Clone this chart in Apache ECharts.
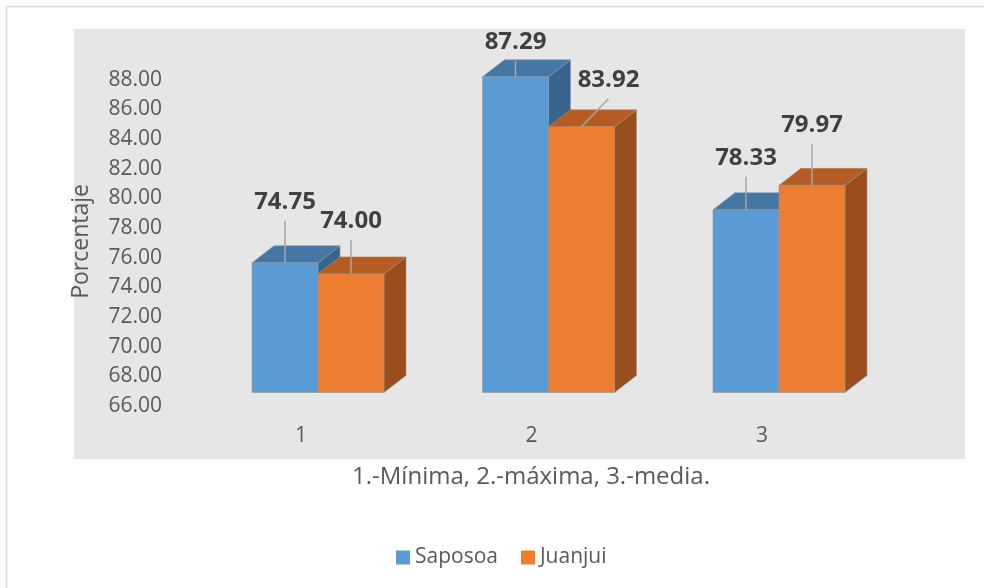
<!DOCTYPE html>
<html>
<head>
<meta charset="utf-8">
<title>Porcentaje</title>
<script src="https://cdn.jsdelivr.net/npm/echarts@6/dist/echarts.min.js"></script>
<style>
  html, body { margin: 0; padding: 0; background: #fff; }
  #main { width: 984px; height: 588px; }
</style>
</head>
<body>
<div id="main"></div>
<script>
var categories = ['1', '2', '3'];
var saposoa = [74.75, 87.29, 78.33];
var juanjui = [74.00, 83.92, 79.97];
var yMin = 66, yMax = 88, yStep = 2;

// where each data label sits, relative to the top of its bar front
var saposoaLabelShift = [[0, -61], [0, -35], [0, -52]];
var juanjuiLabelShift = [[0, -53], [27, -47], [0, -60]];

var FONT = '"Open Sans", "Noto Sans", sans-serif';
var BAR_RATIO = 66 / 230.5;   // bar width relative to one category band
var DX = 22, DY = 17;         // depth of the fake 3d box
var EDGE = 'rgba(150,150,150,0.75)';

function makeRender(k, topColor, sideColor, shifts) {
	return function (params, api) {
		var cat = api.value(0), val = api.value(1);
		var p = api.coord([cat, val]);
		var b = api.coord([cat, yMin]);
		var bw = api.size([1, 0])[0] * BAR_RATIO;
		var left = p[0] + (k - 1) * bw;
		var ty = p[1], by = b[1];
		var cx = left + bw / 2;
		var s = shifts[params.dataIndex];
		var lx = cx + s[0], ly = ty + s[1];
		return {
			type: 'group',
			children: [
				{
					type: 'polygon',
					shape: { points: [[left + bw, ty], [left + bw + DX, ty - DY], [left + bw + DX, by - DY], [left + bw, by]] },
					style: { fill: sideColor, stroke: EDGE, lineWidth: 0.8 }
				},
				{
					type: 'polygon',
					shape: { points: [[left, ty], [left + DX, ty - DY], [left + bw + DX, ty - DY], [left + bw, ty]] },
					style: { fill: topColor, stroke: EDGE, lineWidth: 0.8 }
				},
				{
					type: 'rect',
					shape: { x: left, y: ty, width: bw, height: by - ty },
					style: { fill: api.visual('color'), stroke: EDGE, lineWidth: 0.8 }
				},
				{
					type: 'line', z2: 100,
					shape: { x1: cx, y1: ty, x2: lx, y2: ly + 19 },
					style: { stroke: '#a6a6a6', lineWidth: 1.5 }
				},
				{
					type: 'text', z2: 101, x: lx, y: ly,
					style: {
						text: val.toFixed(2), fill: '#404040',
						font: 'bold 24px ' + FONT,
						align: 'center', verticalAlign: 'middle'
					}
				}
			]
		};
	};
}

function toPairs(arr) {
	return arr.map(function (v, i) { return [i, v]; });
}

var myChart = echarts.init(document.getElementById('main'));

var option = {
	backgroundColor: '#ffffff',
	animation: false,
	graphic: [
		{
			type: 'rect', z: -10,
			shape: { x: 6.5, y: 6.5, width: 1000, height: 600 },
			style: { fill: '#ffffff', stroke: '#d9d9d9', lineWidth: 1.5 }
		},
		{
			type: 'rect', z: -9,
			shape: { x: 74, y: 29, width: 891, height: 430 },
			style: { fill: '#e6e6e6' }
		}
	],
	legend: {
		data: ['Saposoa', 'Juanjui'],
		left: 391, top: 542,
		icon: 'rect', itemWidth: 14, itemHeight: 14, itemGap: 23,
		textStyle: { fontSize: 21, color: '#595959', fontFamily: FONT }
	},
	grid: { left: 202.75, right: 89.75, top: 66.3, bottom: 195.5 },
	xAxis: {
		type: 'category',
		data: categories,
		name: '1.-Mínima, 2.-máxima, 3.-media.',
		nameLocation: 'middle',
		nameGap: 73,
		nameTextStyle: { fontSize: 24, color: '#595959', fontFamily: FONT, padding: [0, 35, 0, 0] },
		axisLine: { show: false },
		axisTick: { show: false },
		axisLabel: {
			margin: 33, lineHeight: 22, padding: [0, 34, 0, 0],
			fontSize: 21, color: '#595959', fontFamily: FONT
		}
	},
	yAxis: {
		type: 'value',
		min: yMin, max: yMax, interval: yStep,
		name: 'Porcentaje',
		nameLocation: 'middle',
		nameGap: 110,
		nameTextStyle: { fontSize: 23, color: '#595959', fontFamily: FONT, padding: [0, 24, 0, 0] },
		axisLine: { show: false },
		axisTick: { show: false },
		splitLine: { show: false },
		axisLabel: {
			margin: 40.75, verticalAlign: 'top', lineHeight: 27,
			fontSize: 21, color: '#595959', fontFamily: FONT,
			formatter: function (v) { return v.toFixed(2); }
		}
	},
	series: [
		{
			name: 'Saposoa',
			type: 'custom',
			itemStyle: { color: '#5b9bd5' },
			encode: { x: 0, y: 1 },
			renderItem: makeRender(0, '#4676a4', '#386590', saposoaLabelShift),
			data: toPairs(saposoa)
		},
		{
			name: 'Juanjui',
			type: 'custom',
			itemStyle: { color: '#ed7d31' },
			encode: { x: 0, y: 1 },
			renderItem: makeRender(1, '#b65b21', '#9a4e1c', juanjuiLabelShift),
			data: toPairs(juanjui)
		}
	]
};

myChart.setOption(option);
</script>
</body>
</html>
